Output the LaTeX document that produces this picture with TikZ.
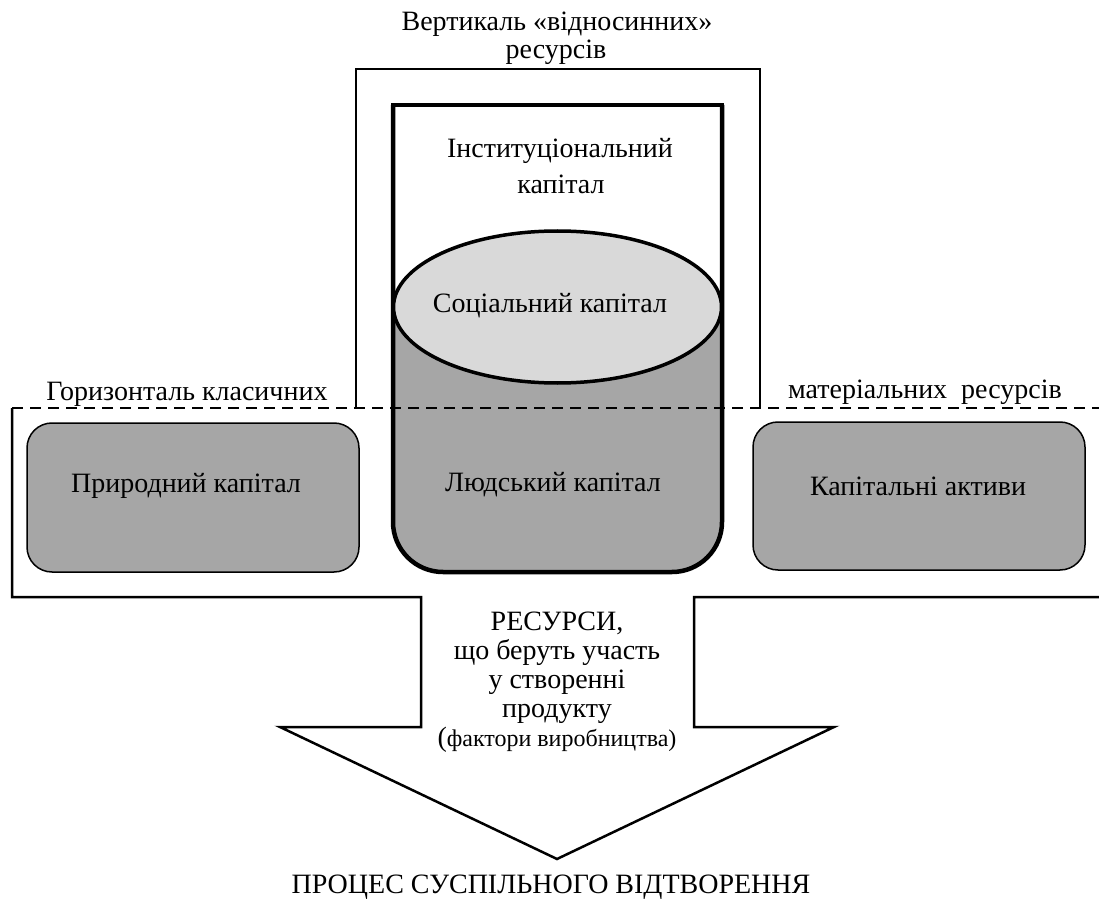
\documentclass[tikz,border=0pt]{standalone}
\usepackage{fontspec}
\setmainfont{Liberation Serif}
\usepackage{xcolor}
\usepackage{tikz}
\usetikzlibrary{calc}

\definecolor{capgray}{HTML}{A6A6A6}
\definecolor{socgray}{HTML}{D9D9D9}
\tikzset{
  lbl/.style={font=\fontsize{14}{16}\selectfont, inner sep=0pt, anchor=base},
  capbox/.style={draw, line width=0.75pt, fill=capgray, rounded corners=12.5pt},
}

\begin{document}
\begin{tikzpicture}[x=0.5pt, y=-0.5pt]
    \useasboundingbox (0,0) rectangle (1099,899);

    % Vertical frame
    \draw[line width=1pt] (356,408) -- (356,69) -- (760,69) -- (760,408);

    % Human capital cylinder
    \fill[capgray, rounded corners=25pt] (393,307) -- (393,572) -- (722,572) -- (722,307);
    \draw[line width=2.25pt, rounded corners=25pt] (393,105) -- (393,572) -- (722,572) -- (722,105);
    \draw[line width=2.25pt, line cap=rect] (393,105) -- (722,105);
    \draw[line width=1.75pt, fill=socgray] (557.5,307) ellipse [x radius=164, y radius=76];

    % Horizontal line
    \draw[line width=1pt, dash pattern=on 5.5pt off 3.5pt] (12,408) -- (1099,408);

    % Side boxes
    \draw[capbox] (27,423) rectangle (359,572);
    \draw[capbox] (753,422) rectangle (1085,570);

    % Outer frame and arrow
    \draw[line width=1.25pt] (12,408) -- (12,597) -- (421,597) -- (421,727) -- (280,727)
        -- (557,859) -- (834,727) -- (694,727) -- (694,597) -- (1099,597);

    % Labels
    \node[lbl] (vert) at (557,31) {Вертикаль «відносинних»};
    \node[lbl] (vertres) at (556,59) {ресурсів};
    \node[lbl] (inst) at (560,158) {Інституціональний};
    \node[lbl] (instcap) at (561,193) {капітал};
    \node[lbl] (soc) at (550,313) {Соціальний капітал};
    \node[lbl] (human) at (553,491) {Людський капітал};
    \node[lbl] (nature) at (186,492) {Природний капітал};
    \node[lbl] (assets) at (918,495) {Капітальні активи};
    \node[lbl] (horleft) at (187,400) {Горизонталь класичних};
    \node[lbl] (horright) at (925,398) {матеріальних\ \ ресурсів};
    \node[lbl, anchor=north, align=center, font=\fontsize{14}{14.5}\selectfont] (res) at (557,611.5)
        {РЕСУРСИ,\\що беруть участь\\у створенні\\продукту\\(\fontsize{12}{14}\selectfont фактори виробництва)};
    \node[lbl] (proc) at (551,893) {ПРОЦЕС СУСПІЛЬНОГО ВІДТВОРЕННЯ};
\end{tikzpicture}
\end{document}
